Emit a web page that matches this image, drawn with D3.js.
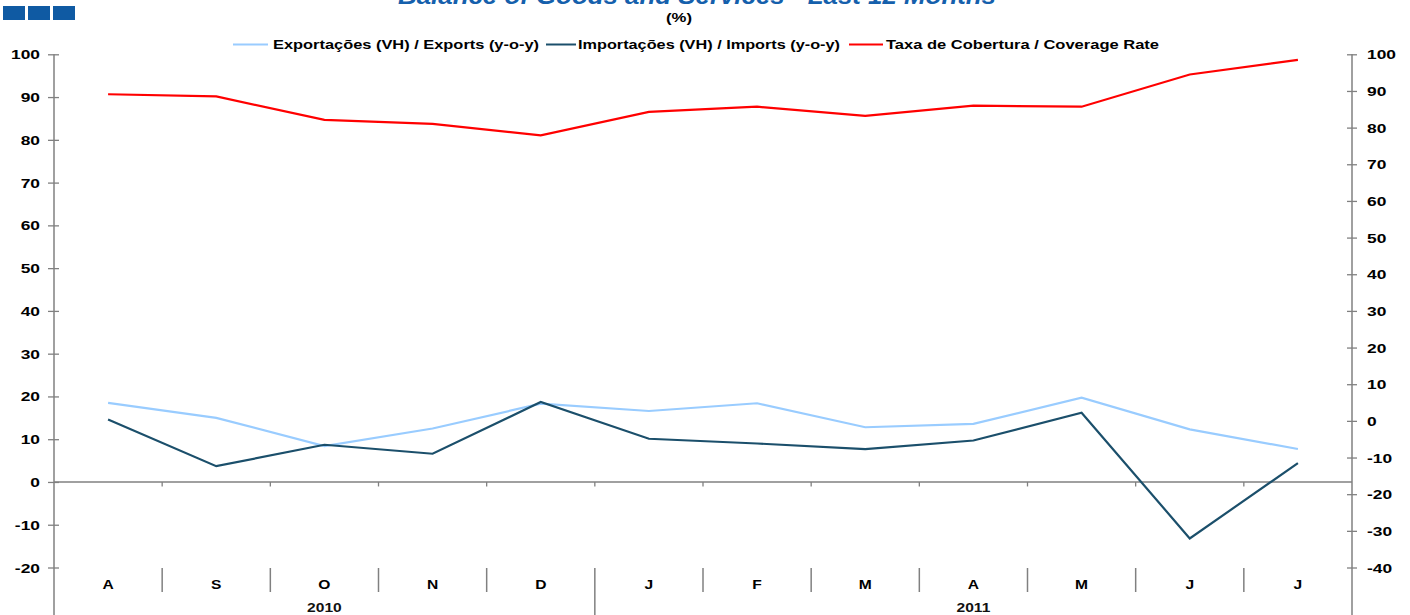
<!DOCTYPE html>
<html>
<head>
<meta charset="utf-8">
<script src="https://cdn.jsdelivr.net/npm/d3@7/dist/d3.min.js"></script>
<style>
  html, body { margin: 0; padding: 0; background: #fff; }
  svg { display: block; font-family: "Liberation Sans", Arial, sans-serif; }
</style>
</head>
<body>
<svg id="chart" width="1410" height="615"></svg>
<script>
// ---- data ----
const months = ["A", "S", "O", "N", "D", "J", "F", "M", "A", "M", "J", "J"];
const years = [{label: "2010", count: 5}, {label: "2011", count: 7}];
const exportsYoY = [18.5, 15.0, 8.4, 12.5, 18.3, 16.6, 18.4, 12.8, 13.6, 19.7, 12.3, 7.7];
const importsYoY = [14.6, 3.7, 8.7, 6.6, 18.7, 10.1, 9.0, 7.7, 9.7, 16.2, -13.2, 4.4];
const coverageRate = [89.1, 88.5, 82.1, 81.0, 77.9, 84.3, 85.7, 83.2, 86.0, 85.7, 94.5, 98.5];
const leftTicks = [-20, -10, 0, 10, 20, 30, 40, 50, 60, 70, 80, 90, 100];
const rightTicks = [-40, -30, -20, -10, 0, 10, 20, 30, 40, 50, 60, 70, 80, 90, 100];
const seriesNames = [
  "Exportações (VH) / Exports (y-o-y)",
  "Importações (VH) / Imports (y-o-y)",
  "Taxa de Cobertura / Coverage Rate"
];
const title = "Balance of Goods and Services - Last 12 Months";
const subtitle = "(%)";

// ---- layout ----
const svg = d3.select("#chart");
const L = 54, R = 1352, T = 54.3, B = 567.5;
const axisColor = "#808080";
const colExp = "#99CCFF", colImp = "#1B4F6B", colCov = "#FF0000";

const x = d3.scaleBand().domain(d3.range(months.length)).range([L, R]).padding(0);
const yL = d3.scaleLinear().domain([-20, 100]).range([B, T]);
const yR = d3.scaleLinear().domain([-40, 100]).range([B, T]);

// logo squares
const logo = svg.append("g");
[3, 28, 53].forEach(px => {
  logo.append("rect").attr("x", px).attr("y", 6).attr("width", 22).attr("height", 14).attr("fill", "#0F5AA3");
});

// title
svg.append("text").attr("x", 697).attr("y", 4).attr("text-anchor", "middle")
  .attr("font-size", 23).attr("font-weight", "bold").attr("font-style", "italic")
  .attr("fill", "#1560AC").attr("textLength", 598).attr("lengthAdjust", "spacingAndGlyphs")
  .text(title);
svg.append("text").attr("x", 679).attr("y", 21.5).attr("text-anchor", "middle")
  .attr("font-size", 12).attr("font-weight", "bold").attr("fill", "#000")
  .attr("textLength", 26).attr("lengthAdjust", "spacingAndGlyphs")
  .text(subtitle);

// legend
const legendItems = [
  {name: seriesNames[0], color: colExp, x1: 233, x2: 268, tx: 273, tw: 266},
  {name: seriesNames[1], color: colImp, x1: 546, x2: 576, tx: 578, tw: 262},
  {name: seriesNames[2], color: colCov, x1: 849, x2: 883, tx: 886, tw: 273}
];
const lg = svg.append("g");
legendItems.forEach(d => {
  lg.append("line").attr("x1", d.x1).attr("x2", d.x2).attr("y1", 44.5).attr("y2", 44.5)
    .attr("stroke", d.color).attr("stroke-width", 2);
  lg.append("text").attr("x", d.tx).attr("y", 48.5).attr("font-size", 12.5).attr("font-weight", "bold")
    .attr("fill", "#000").attr("textLength", d.tw).attr("lengthAdjust", "spacingAndGlyphs").text(d.name);
});

// left axis
const gL = svg.append("g").attr("transform", `translate(${L},0)`);
gL.call(d3.axisLeft(yL).tickValues(leftTicks).tickSize(0).tickFormat(d3.format("d")));
gL.select(".domain").remove();
gL.selectAll(".tick text").remove();
gL.append("line").attr("x1", 0).attr("x2", 0).attr("y1", T).attr("y2", 615)
  .attr("stroke", axisColor).attr("stroke-width", 1.5);
gL.selectAll(".tick").each(function(d) {
  const t = d3.select(this);
  t.append("line").attr("x1", -6).attr("x2", 5).attr("stroke", axisColor).attr("stroke-width", 1.3);
  t.append("text").attr("text-anchor", "end").attr("transform", "translate(-14,4.5) scale(1.45,1)")
    .attr("font-size", 12).attr("font-weight", "bold").attr("fill", "#000").text(d);
});

// right axis
const gR = svg.append("g").attr("transform", `translate(${R},0)`);
gR.call(d3.axisRight(yR).tickValues(rightTicks).tickSize(0).tickFormat(d3.format("d")));
gR.select(".domain").remove();
gR.selectAll(".tick text").remove();
gR.append("line").attr("x1", 0).attr("x2", 0).attr("y1", T).attr("y2", 615)
  .attr("stroke", axisColor).attr("stroke-width", 1.5);
gR.selectAll(".tick").each(function(d) {
  const t = d3.select(this);
  t.append("line").attr("x1", -5).attr("x2", 5).attr("stroke", axisColor).attr("stroke-width", 1.3);
  t.append("text").attr("text-anchor", "start").attr("transform", "translate(15,4.5) scale(1.45,1)")
    .attr("font-size", 12).attr("font-weight", "bold").attr("fill", "#000").text(d);
});

// category axis at zero
const y0 = yL(0);
svg.append("line").attr("x1", L).attr("x2", R).attr("y1", y0).attr("y2", y0)
  .attr("stroke", axisColor).attr("stroke-width", 1.5);
d3.range(1, months.length).forEach(i => {
  const bx = x(i);
  svg.append("line").attr("x1", bx).attr("x2", bx).attr("y1", y0).attr("y2", y0 + 4.5)
    .attr("stroke", axisColor).attr("stroke-width", 1.3);
});

// month labels & separators
months.forEach((m, i) => {
  svg.append("text").attr("text-anchor", "middle")
    .attr("transform", `translate(${x(i) + x.bandwidth() / 2},589) scale(1.3,1)`)
    .attr("font-size", 12).attr("font-weight", "bold").attr("fill", "#000").text(m);
});
let acc = 0;
const yearBounds = new Set();
years.forEach(yr => { acc += yr.count; yearBounds.add(acc); });
d3.range(1, months.length).forEach(i => {
  const bx = x(i);
  const isYear = yearBounds.has(i);
  svg.append("line").attr("x1", bx).attr("x2", bx).attr("y1", 568).attr("y2", isYear ? 615 : 592)
    .attr("stroke", axisColor).attr("stroke-width", 1.5);
});
acc = 0;
years.forEach(yr => {
  const cx = (x(acc) + x(acc + yr.count - 1) + x.bandwidth()) / 2;
  svg.append("text").attr("text-anchor", "middle")
    .attr("transform", `translate(${cx},612) scale(1.3,1)`)
    .attr("font-size", 12).attr("font-weight", "bold").attr("fill", "#111").text(yr.label);
  acc += yr.count;
});

// lines
const cx = i => x(i) + x.bandwidth() / 2;
const lineL = d3.line().x((d, i) => cx(i)).y(d => yL(d));
const lineR = d3.line().x((d, i) => cx(i)).y(d => yR(d));
svg.append("path").datum(exportsYoY).attr("d", lineL).attr("fill", "none")
  .attr("stroke", colExp).attr("stroke-width", 2.2);
svg.append("path").datum(importsYoY).attr("d", lineL).attr("fill", "none")
  .attr("stroke", colImp).attr("stroke-width", 2.2);
svg.append("path").datum(coverageRate).attr("d", lineR).attr("fill", "none")
  .attr("stroke", colCov).attr("stroke-width", 2.2);
</script>
</body>
</html>
